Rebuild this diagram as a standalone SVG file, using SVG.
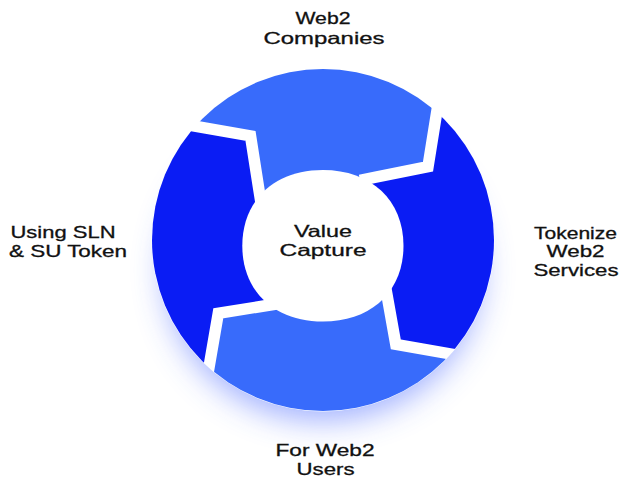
<svg xmlns="http://www.w3.org/2000/svg" width="634" height="479" viewBox="0 0 634 479">
  <style>
    .lbl { font-family: "Liberation Sans", Arial, sans-serif; font-size: 16.5px; fill: #111; stroke: #111; stroke-width: 0.3px; }
    .mid { text-anchor: middle; }
    .light { fill: #386bfb; }
    .dark { fill: #0a1cf4; }
  </style>
  <defs>
    <clipPath id="ring">
      <circle cx="323" cy="240" r="171"/>
    </clipPath>
    <filter id="glow" x="-50%" y="-50%" width="200%" height="200%">
      <feGaussianBlur stdDeviation="16"/>
    </filter>
    <mask id="gaps" maskUnits="userSpaceOnUse" x="0" y="0" width="634" height="479">
      <rect x="0" y="0" width="634" height="479" fill="#fff"/>
      <g fill="none" stroke="#000" stroke-width="11.5" stroke-linejoin="miter">
        <polyline points="261.2,204 258.7,188.4 250.5,135.9 140.3,116.7"/>
        <polyline points="360,180.4 375.8,177.2 428,166.7 444.8,61.9"/>
        <polyline points="384,278 386.7,293.3 395.8,344.3 504.2,363.3"/>
        <polyline points="285.5,302.5 270,305 218.3,313.3 199.9,420.1"/>
      </g>
      <path fill="#000" d="M403.5,245.8 C403.5,291.3 371.3,321.6 322.9,321.6 C274.5,321.6 242.3,291.3 242.3,245.8 C242.3,200.3 274.5,170 322.9,170 C371.3,170 403.5,200.3 403.5,245.8 Z"/>
    </mask>
  </defs>

  <ellipse cx="323" cy="270" rx="158" ry="150" fill="#3a5cff" opacity="0.5" filter="url(#glow)"/>
  <circle cx="323" cy="240" r="171.5" fill="#fff"/>

  <g id="ring-segments" mask="url(#gaps)">
    <g clip-path="url(#ring)">
      <polygon id="seg-top" class="light" points="323,245 258.7,188.4 250.5,135.9 140.3,116.7 100,20 444.8,20 444.8,61.9 428,166.7 375.8,177.2"/>
      <polygon id="seg-right" class="dark" points="323,245 375.8,177.2 428,166.7 444.8,61.9 444.8,20 560,20 560,363.3 504.2,363.3 395.8,344.3 386.7,293.3"/>
      <polygon id="seg-bottom" class="light" points="323,245 386.7,293.3 395.8,344.3 504.2,363.3 560,363.3 560,470 199.9,470 199.9,420.1 218.3,313.3 270,305"/>
      <polygon id="seg-left" class="dark" points="323,245 270,305 218.3,313.3 199.9,420.1 199.9,470 100,470 100,20 140.3,116.7 250.5,135.9 258.7,188.4"/>
    </g>
  </g>

  <g id="center">
    <text class="lbl mid" x="323" y="236.7" textLength="58" lengthAdjust="spacingAndGlyphs">Value</text>
    <text class="lbl mid" x="323" y="256" textLength="87" lengthAdjust="spacingAndGlyphs">Capture</text>
  </g>
  <g id="label-top">
    <text class="lbl mid" x="323" y="24" textLength="55" lengthAdjust="spacingAndGlyphs">Web2</text>
    <text class="lbl mid" x="324" y="44.3" textLength="121" lengthAdjust="spacingAndGlyphs">Companies</text>
  </g>
  <g id="label-right">
    <text class="lbl mid" x="575.5" y="238.6" textLength="83" lengthAdjust="spacingAndGlyphs">Tokenize</text>
    <text class="lbl mid" x="575.5" y="257.1" textLength="58" lengthAdjust="spacingAndGlyphs">Web2</text>
    <text class="lbl mid" x="576" y="275.7" textLength="85" lengthAdjust="spacingAndGlyphs">Services</text>
  </g>
  <g id="label-bottom">
    <text class="lbl mid" x="325" y="456" textLength="99" lengthAdjust="spacingAndGlyphs">For Web2</text>
    <text class="lbl mid" x="325.5" y="474.5" textLength="58" lengthAdjust="spacingAndGlyphs">Users</text>
  </g>
  <g id="label-left">
    <text class="lbl" x="10.5" y="238.2" textLength="105" lengthAdjust="spacingAndGlyphs">Using SLN</text>
    <text class="lbl" x="9" y="256.8" textLength="118" lengthAdjust="spacingAndGlyphs">&amp; SU Token</text>
  </g>
</svg>
